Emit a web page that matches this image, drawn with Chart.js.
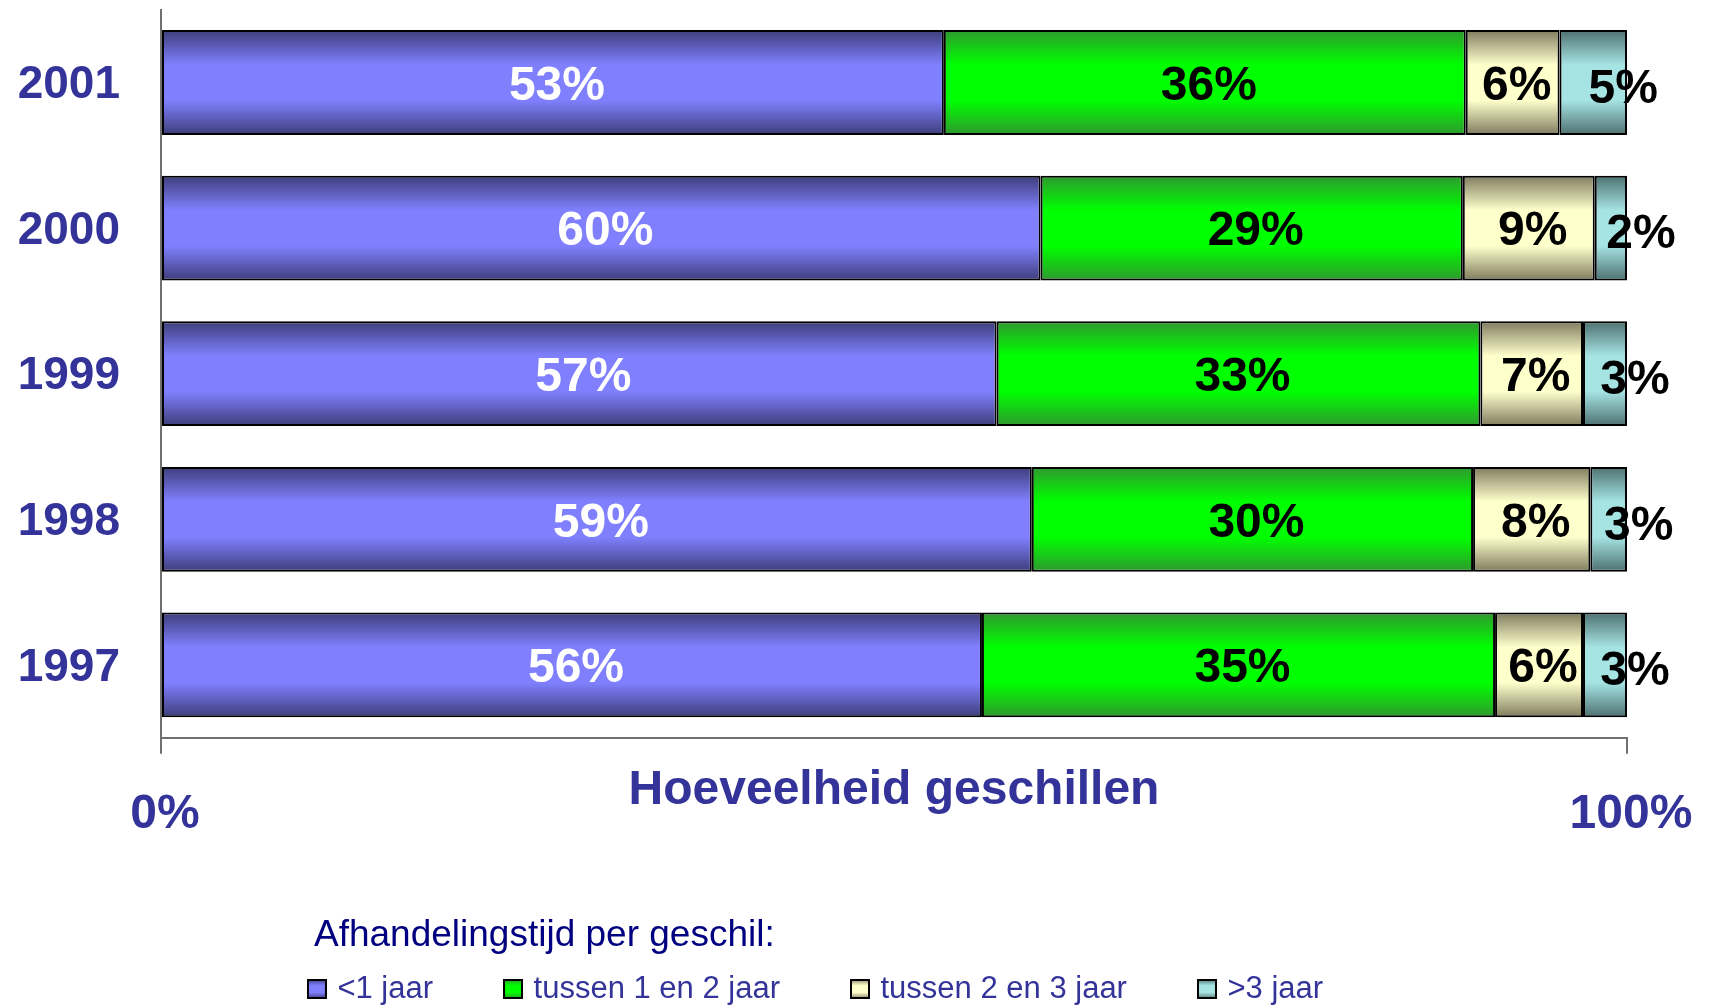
<!DOCTYPE html>
<html>
<head>
<meta charset="utf-8">
<script src="https://cdn.jsdelivr.net/npm/chart.js@4"></script>
<style>
  html, body { margin: 0; padding: 0; background: #ffffff; }
  #wrap { width: 1712px; height: 1008px; position: relative; }
</style>
</head>
<body>
<div id="wrap"><canvas id="c" width="1712" height="1008"></canvas></div>
<script>
// ---- data ----
const years = ['2001', '2000', '1999', '1998', '1997'];
const seriesNames = ['<1 jaar', 'tussen 1 en 2 jaar', 'tussen 2 en 3 jaar', '>3 jaar'];
const lessThan1 = [53.4, 60.0, 57.0, 59.4, 56.0];
const between1and2 = [35.6, 28.8, 33.0, 30.1, 35.0];
const between2and3 = [6.4, 9.0, 7.0, 8.0, 6.0];
const moreThan3 = [4.6, 2.2, 3.0, 2.5, 3.0];
const xTickValues = [0, 100];
const axisTitle = 'Hoeveelheid geschillen';
const legendTitle = 'Afhandelingstijd per geschil:';

// ---- styles ----
const FONT = '"Liberation Sans", Arial, Helvetica, sans-serif';
const AXIS_BLUE = '#333399';
const edgeColors = ['#3d3d7a', '#2f982f', '#7f7b5e', '#4d7070'];
const midColors = ['#8080ff', '#00ff00', '#ffffcc', '#a6e3e3'];
const labelColors = ['#ffffff', '#000000', '#000000', '#000000'];
const BAR_PCT = 0.72;

function barGradient(c, di) {
  const chart = c.chart;
  const ys = chart.scales && chart.scales.y;
  if (!chart.chartArea || !ys || c.type !== 'data') return midColors[di];
  const cy = ys.getPixelForValue(c.dataIndex);
  const cat = Math.abs(ys.getPixelForValue(1) - ys.getPixelForValue(0));
  const half = cat * BAR_PCT / 2;
  const g = chart.ctx.createLinearGradient(0, cy - half, 0, cy + half);
  g.addColorStop(0, edgeColors[di]);
  g.addColorStop(0.33, midColors[di]);
  g.addColorStop(0.67, midColors[di]);
  g.addColorStop(1, edgeColors[di]);
  return g;
}

function legendSwatch(di) {
  const s = 20;
  const cv = document.createElement('canvas');
  cv.width = s; cv.height = s;
  const x = cv.getContext('2d');
  const g = x.createLinearGradient(0, 0, 0, s);
  g.addColorStop(0, edgeColors[di]);
  g.addColorStop(0.33, midColors[di]);
  g.addColorStop(0.67, midColors[di]);
  g.addColorStop(1, edgeColors[di]);
  x.fillStyle = g;
  x.fillRect(0, 0, s, s);
  x.strokeStyle = '#000000';
  x.lineWidth = 2;
  x.strokeRect(1, 1, s - 2, s - 2);
  return cv;
}

const seriesValues = [lessThan1, between1and2, between2and3, moreThan3];
const datasets = seriesValues.map((vals, di) => ({
  label: seriesNames[di],
  data: vals,
  backgroundColor: (c) => barGradient(c, di),
  borderColor: '#000000',
  borderWidth: 2,
  borderSkipped: false,
  barPercentage: BAR_PCT,
  categoryPercentage: 1.0
}));

const dataLabelPlugin = {
  id: 'dataLabels',
  afterDatasetsDraw(chart) {
    const ctx = chart.ctx;
    ctx.save();
    ctx.font = 'bold 48px ' + FONT;
    ctx.textAlign = 'center';
    ctx.textBaseline = 'middle';
    chart.data.datasets.forEach((ds, di) => {
      const meta = chart.getDatasetMeta(di);
      meta.data.forEach((bar, i) => {
        const p = bar.getProps(['x', 'y', 'base'], true);
        let cx = (p.x + p.base) / 2 + 4;
        let cy = p.y + 4;
        if (di === 3) { cx += 26; cy += 3; }
        ctx.fillStyle = labelColors[di];
        ctx.fillText(Math.round(ds.data[i]) + '%', cx, cy);
      });
    });
    ctx.restore();
  },
  afterDraw(chart) {
    const ctx = chart.ctx;
    ctx.save();
    ctx.font = '37px ' + FONT;
    ctx.fillStyle = '#000080';
    ctx.textAlign = 'left';
    ctx.textBaseline = 'middle';
    ctx.fillText(legendTitle, 314, 936);
    ctx.restore();
  }
};

new Chart(document.getElementById('c'), {
  type: 'bar',
  data: { labels: years, datasets: datasets },
  plugins: [dataLabelPlugin],
  options: {
    indexAxis: 'y',
    responsive: false,
    maintainAspectRatio: false,
    animation: false,
    layout: { padding: { top: 9.7, left: 8, right: 85, bottom: -6.5 } },
    scales: {
      x: {
        stacked: true,
        min: 0,
        max: 100,
        afterBuildTicks: (scale) => { scale.ticks = xTickValues.map(v => ({ value: v })); },
        afterFit: (scale) => {
          scale.height = 160.8;
          scale.paddingLeft = 0; scale.paddingRight = 0;
          scale.paddingTop = 0; scale.paddingBottom = 0;
        },
        grid: { display: true, drawOnChartArea: false, drawTicks: true, tickLength: 16, color: '#707070', lineWidth: 2 },
        border: { display: true, color: '#707070', width: 2 },
        ticks: {
          callback: (v) => v + '%',
          color: AXIS_BLUE,
          font: { family: FONT, size: 48, weight: 'bold' },
          padding: 32.5,
          labelOffset: 4,
          maxRotation: 0,
          autoSkip: false
        },
        title: {
          display: true,
          text: axisTitle,
          color: AXIS_BLUE,
          font: { family: FONT, size: 48, weight: 'bold' },
          padding: { top: 0, bottom: 79 }
        }
      },
      y: {
        stacked: true,
        afterFit: (scale) => {
          scale.width = 153;
          scale.paddingTop = 0; scale.paddingBottom = 0;
          scale.paddingLeft = 0; scale.paddingRight = 0;
        },
        grid: { display: false, drawTicks: false },
        border: { display: true, color: '#707070', width: 2 },
        ticks: {
          color: AXIS_BLUE,
          font: { family: FONT, size: 46, weight: 'bold' },
          padding: 41,
          labelOffset: 3
        }
      }
    },
    plugins: {
      tooltip: { enabled: false },
      legend: {
        display: true,
        position: 'bottom',
        align: 'center',
        labels: {
          usePointStyle: true,
          pointStyleWidth: 10,
          boxHeight: 19,
          padding: 75,
          color: AXIS_BLUE,
          font: { family: FONT, size: 31 },
          generateLabels: (chart) => chart.data.datasets.map((ds, di) => ({
            text: ds.label,
            fillStyle: midColors[di],
            strokeStyle: '#000000',
            lineWidth: 0,
            pointStyle: legendSwatch(di),
            hidden: false,
            datasetIndex: di,
            fontColor: AXIS_BLUE
          }))
        }
      }
    }
  }
});
</script>
</body>
</html>
